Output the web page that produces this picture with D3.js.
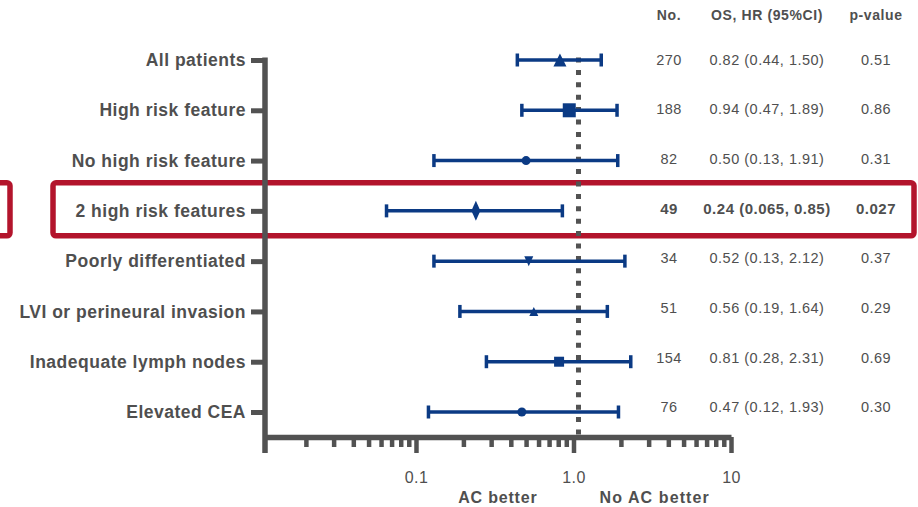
<!DOCTYPE html>
<html>
<head>
<meta charset="utf-8">
<script src="https://cdn.jsdelivr.net/npm/d3@7/dist/d3.min.js"></script>
<style>
  html, body { margin: 0; padding: 0; background: #ffffff; }
  svg { display: block; font-family: "Liberation Sans", Arial, Helvetica, sans-serif; }
</style>
</head>
<body>
<svg id="chart" width="918" height="507"></svg>
<script>
// Subgroups of the forest plot
const subgroups = [
  "All patients",
  "High risk feature",
  "No high risk feature",
  "2 high risk features",
  "Poorly differentiated",
  "LVI or perineural invasion",
  "Inadequate lymph nodes",
  "Elevated CEA"
];
// Number of patients per subgroup
const patients = [270, 188, 82, 49, 34, 51, 154, 76];
// Overall survival hazard ratio with 95% CI
const hazardRatio = [0.82, 0.94, 0.50, 0.24, 0.52, 0.56, 0.81, 0.47];
const ciLower     = [0.44, 0.47, 0.13, 0.065, 0.13, 0.19, 0.28, 0.12];
const ciUpper     = [1.50, 1.89, 1.91, 0.85, 2.12, 1.64, 2.31, 1.93];
const pValues     = ["0.51", "0.86", "0.31", "0.027", "0.37", "0.29", "0.69", "0.30"];
// Subgroup singled out with a frame and bold figures
const highlighted = "2 high risk features";
// Log axis
const majorTicks = [0.1, 1, 10];
const majorTickLabels = ["0.1", "1.0", "10"];
const minorTicks = [0.02, 0.03, 0.04, 0.05, 0.06, 0.07, 0.08, 0.09,
                    0.2, 0.3, 0.4, 0.5, 0.6, 0.7, 0.8, 0.9,
                    2, 3, 4, 5, 6, 7, 8, 9];
const axisMin = 0.011, axisMax = 10;
const referenceHR = 1;

// ---- styling ----
const BLUE = "#0b3a84";
const GREY = "#525252";
const TEXT = "#4f4f4f";
const RED = "#b3142c";
// marker shape and size per row
const markerStyle = [
  { shape: "triUp", w: 13, h: 13 },
  { shape: "square", w: 13, h: 14 },
  { shape: "circle", w: 9, h: 9 },
  { shape: "diamond", w: 9, h: 20 },
  { shape: "triDown", w: 9, h: 10 },
  { shape: "triUp", w: 9, h: 9 },
  { shape: "square", w: 10, h: 10 },
  { shape: "circle", w: 9, h: 9 }
];

function markerPath(s) {
  const w = s.w / 2, h = s.h / 2;
  switch (s.shape) {
    case "triUp": return `M0,${-h}L${w},${h}L${-w},${h}Z`;
    case "triDown": return `M0,${h}L${w},${-h}L${-w},${-h}Z`;
    case "square": return `M${-w},${-h}H${w}V${h}H${-w}Z`;
    case "diamond": return `M0,${-h}L${w},0L0,${h}L${-w},0Z`;
    default: return d3.symbol(d3.symbolCircle, Math.PI * w * w)();
  }
}

const fmt = v => v < 0.1 ? v.toFixed(3) : v.toFixed(2);

const rows = subgroups.map((label, i) => ({
  label, n: patients[i], hr: hazardRatio[i], lo: ciLower[i], hi: ciUpper[i],
  p: pValues[i], style: markerStyle[i], bold: label === highlighted
}));

const svg = d3.select("#chart");

const x = d3.scaleLog().domain([axisMin, axisMax]).range([265, 731]);
const y = d3.scalePoint().domain(subgroups).range([60, 412]);
const yText = d3.scalePoint().domain(subgroups).range([59.5, 407]);
const axisY = 437;

// highlight frame
const hlTop = y(highlighted) - 28, hlH = 53;
svg.append("rect")
  .attr("x", 53).attr("y", hlTop).attr("width", 861).attr("height", hlH)
  .attr("rx", 3).attr("fill", "none").attr("stroke", RED).attr("stroke-width", 5.5);
svg.append("rect")
  .attr("x", -30).attr("y", hlTop).attr("width", 40).attr("height", hlH)
  .attr("rx", 3).attr("fill", "none").attr("stroke", RED).attr("stroke-width", 5.5);

// reference line at HR = 1
svg.append("line")
  .attr("x1", x(referenceHR) + 5).attr("x2", x(referenceHR) + 5)
  .attr("y1", y(subgroups[0]) - 2.5).attr("y2", axisY)
  .attr("stroke", GREY).attr("stroke-width", 5)
  .attr("stroke-dasharray", "5,7.4");

// x axis: minor ticks
const minorAxis = svg.append("g").attr("transform", `translate(0,${axisY})`)
  .call(d3.axisBottom(x).tickValues(minorTicks).tickSize(10).tickSizeOuter(0).tickFormat(""));
minorAxis.select(".domain").remove();
minorAxis.selectAll(".tick line").attr("stroke", GREY).attr("stroke-width", 4.5);

// x axis: major ticks and labels
const majorAxis = svg.append("g").attr("transform", `translate(0,${axisY})`)
  .call(d3.axisBottom(x).tickValues(majorTicks).tickSize(16).tickSizeOuter(0).tickPadding(19)
    .tickFormat((d, i) => majorTickLabels[i]));
majorAxis.select(".domain").attr("stroke", GREY).attr("stroke-width", 5.5);
majorAxis.selectAll(".tick line").attr("stroke", GREY).attr("stroke-width", 4.5);
majorAxis.selectAll(".tick text")
  .attr("fill", TEXT).attr("font-size", 16).attr("letter-spacing", 0.4)
  .attr("font-family", "Liberation Sans, Arial, sans-serif");

// y axis with subgroup labels
const yAxis = svg.append("g").attr("transform", `translate(265,0)`)
  .call(d3.axisLeft(y).tickSize(14).tickSizeOuter(0).tickPadding(5));
yAxis.select(".domain").remove();
yAxis.selectAll(".tick line").attr("stroke", GREY).attr("stroke-width", 5);
yAxis.selectAll(".tick text")
  .attr("fill", TEXT).attr("font-size", 17.5).attr("font-weight", "bold")
  .attr("letter-spacing", 0.5)
  .attr("font-family", "Liberation Sans, Arial, sans-serif");
svg.append("line")
  .attr("x1", 265).attr("x2", 265)
  .attr("y1", y(subgroups[0]) - 2.5).attr("y2", axisY + 16)
  .attr("stroke", GREY).attr("stroke-width", 5.5);

// axis direction captions
svg.append("text").attr("x", x(referenceHR) - 36).attr("y", 503)
  .attr("text-anchor", "end").attr("fill", TEXT).attr("font-weight", "bold")
  .attr("font-size", 16).attr("letter-spacing", 0.8).text("AC better");
svg.append("text").attr("x", x(referenceHR) + 26).attr("y", 503)
  .attr("text-anchor", "start").attr("fill", TEXT).attr("font-weight", "bold")
  .attr("font-size", 16).attr("letter-spacing", 1.1).text("No AC better");

// confidence intervals
const ci = svg.append("g").selectAll("g").data(rows).join("g")
  .attr("transform", d => `translate(0,${y(d.label)})`);
ci.append("line")
  .attr("x1", d => x(d.lo)).attr("x2", d => x(d.hi))
  .attr("stroke", BLUE).attr("stroke-width", 3.5);
ci.append("line")
  .attr("x1", d => x(d.lo)).attr("x2", d => x(d.lo)).attr("y1", -6.5).attr("y2", 6.5)
  .attr("stroke", BLUE).attr("stroke-width", 3.5);
ci.append("line")
  .attr("x1", d => x(d.hi)).attr("x2", d => x(d.hi)).attr("y1", -6.5).attr("y2", 6.5)
  .attr("stroke", BLUE).attr("stroke-width", 3.5);
ci.append("path")
  .attr("transform", d => `translate(${x(d.hr)},0)`)
  .attr("d", d => markerPath(d.style))
  .attr("fill", BLUE);

// table columns
const cols = [
  { head: "No.", cx: 669, val: d => String(d.n) },
  { head: "OS, HR (95%CI)", cx: 767, val: d => `${fmt(d.hr)} (${fmt(d.lo)}, ${fmt(d.hi)})` },
  { head: "p-value", cx: 876, val: d => d.p }
];
cols.forEach(c => {
  svg.append("text").attr("x", c.cx).attr("y", 20)
    .attr("text-anchor", "middle").attr("fill", TEXT).attr("font-weight", "bold")
    .attr("font-size", 14).attr("letter-spacing", 0.6).text(c.head);
  svg.append("g").selectAll("text").data(rows).join("text")
    .attr("x", c.cx).attr("y", d => yText(d.label))
    .attr("dy", "0.36em")
    .attr("text-anchor", "middle").attr("fill", TEXT)
    .attr("font-weight", d => d.bold ? "bold" : "normal")
    .attr("font-size", d => d.bold ? 15 : 14.5)
    .attr("letter-spacing", 0.5)
    .text(c.val);
});
</script>
</body>
</html>
